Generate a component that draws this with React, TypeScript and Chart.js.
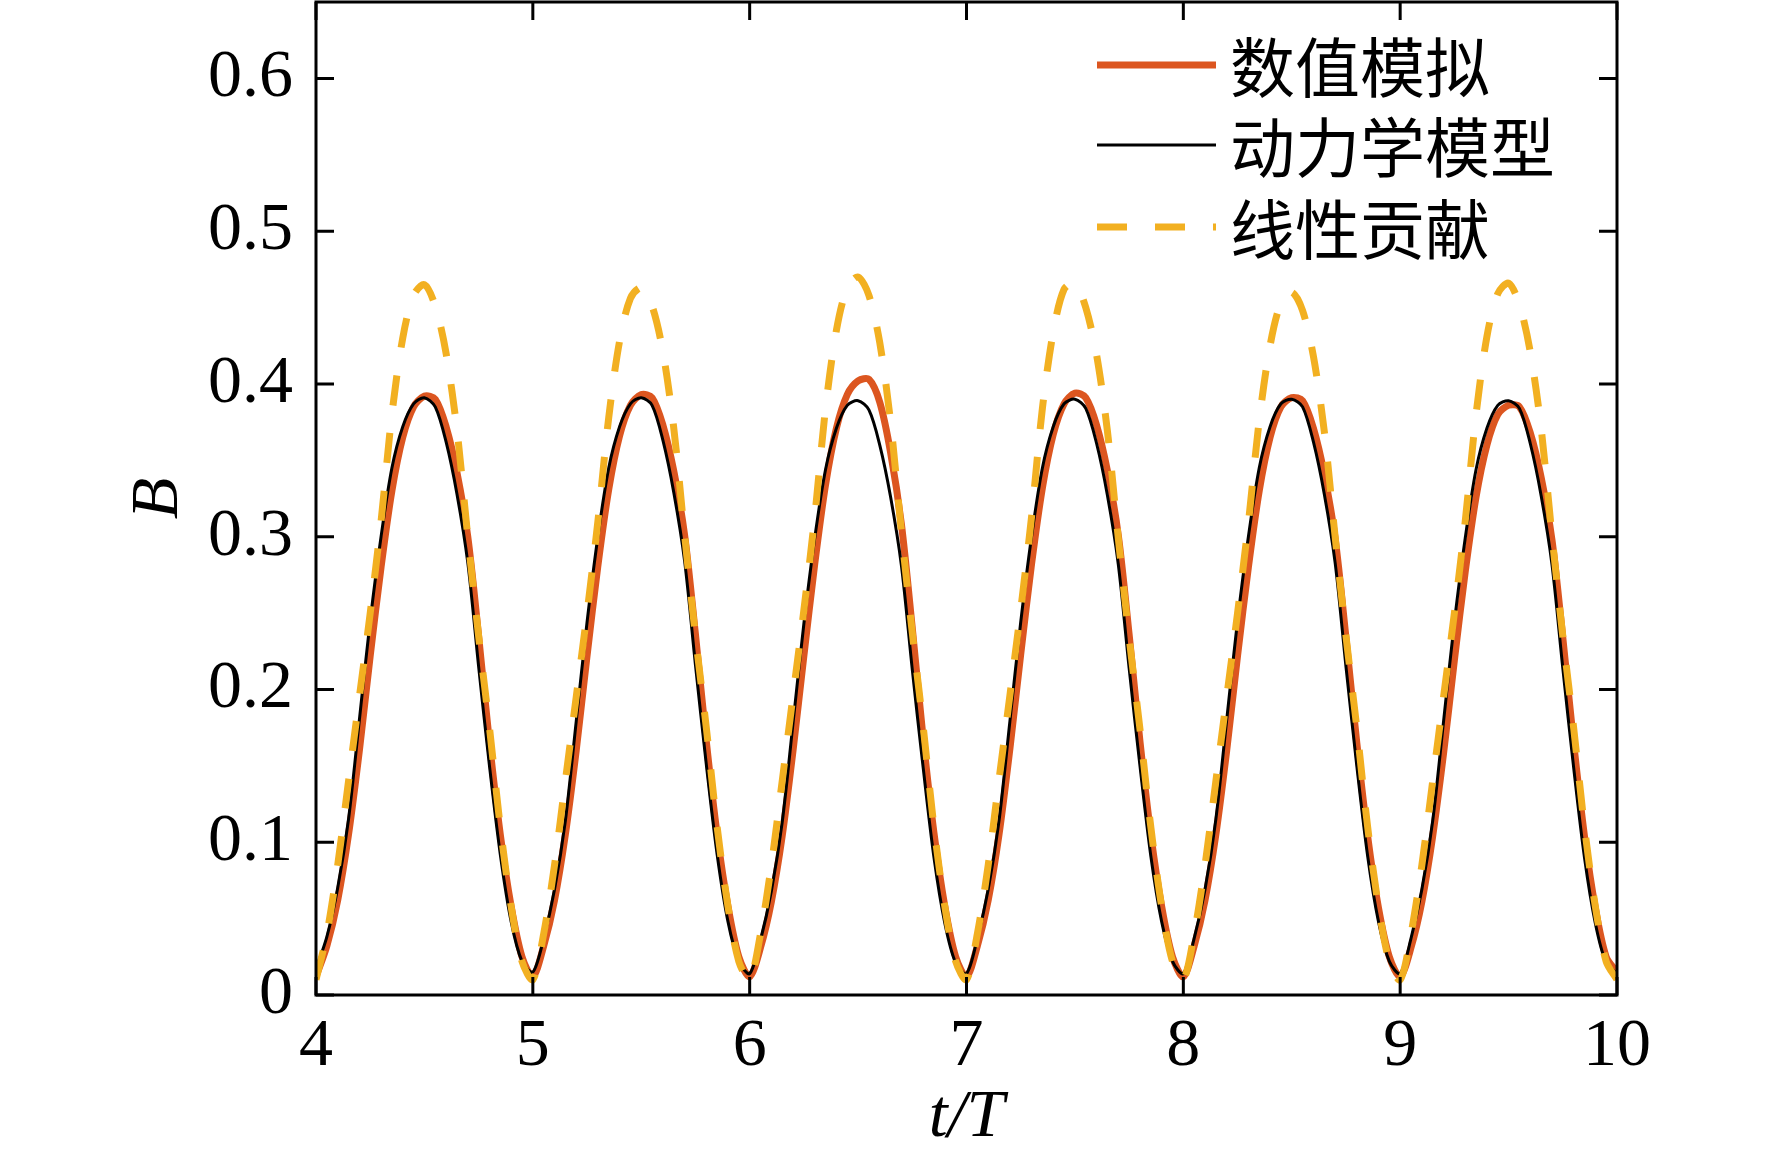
import React, { useEffect, useRef } from "react";
import { Chart, registerables } from "chart.js";

Chart.register(...registerables);

// sample times t/T
const T = [
  4.0, 4.05, 4.1, 4.15, 4.2, 4.25, 4.3, 4.35, 4.4, 4.45, 4.5, 4.55, 4.6, 4.65, 4.7, 4.75, 4.8, 4.85, 4.9, 4.95,
  5.0, 5.05, 5.1, 5.15, 5.2, 5.25, 5.3, 5.35, 5.4, 5.45, 5.5, 5.55, 5.6, 5.65, 5.7, 5.75, 5.8, 5.85, 5.9, 5.95,
  6.0, 6.05, 6.1, 6.15, 6.2, 6.25, 6.3, 6.35, 6.4, 6.45, 6.5, 6.55, 6.6, 6.65, 6.7, 6.75, 6.8, 6.85, 6.9, 6.95,
  7.0, 7.05, 7.1, 7.15, 7.2, 7.25, 7.3, 7.35, 7.4, 7.45, 7.5, 7.55, 7.6, 7.65, 7.7, 7.75, 7.8, 7.85, 7.9, 7.95,
  8.0, 8.05, 8.1, 8.15, 8.2, 8.25, 8.3, 8.35, 8.4, 8.45, 8.5, 8.55, 8.6, 8.65, 8.7, 8.75, 8.8, 8.85, 8.9, 8.95,
  9.0, 9.05, 9.1, 9.15, 9.2, 9.25, 9.3, 9.35, 9.4, 9.45, 9.5, 9.55, 9.6, 9.65, 9.7, 9.75, 9.8, 9.85, 9.9, 9.95,
  10.0,
];

// 数值模拟
const NUMERICAL = [
  0.012, 0.032, 0.062, 0.105, 0.160, 0.222, 0.280, 0.330, 0.365, 0.385, 0.392, 0.390, 0.372, 0.342, 0.300, 0.235, 0.165, 0.105, 0.058, 0.025,
  0.012, 0.032, 0.062, 0.105, 0.160, 0.222, 0.281, 0.331, 0.366, 0.386, 0.393, 0.391, 0.373, 0.343, 0.301, 0.236, 0.166, 0.105, 0.058, 0.025,
  0.012, 0.031, 0.061, 0.104, 0.160, 0.222, 0.282, 0.334, 0.371, 0.393, 0.402, 0.403, 0.388, 0.355, 0.308, 0.240, 0.168, 0.106, 0.058, 0.025,
  0.012, 0.032, 0.062, 0.105, 0.161, 0.223, 0.282, 0.332, 0.367, 0.387, 0.394, 0.391, 0.373, 0.343, 0.301, 0.236, 0.166, 0.105, 0.058, 0.025,
  0.012, 0.032, 0.062, 0.105, 0.160, 0.222, 0.280, 0.330, 0.365, 0.385, 0.391, 0.389, 0.371, 0.341, 0.299, 0.234, 0.165, 0.104, 0.057, 0.025,
  0.012, 0.031, 0.061, 0.104, 0.158, 0.219, 0.277, 0.326, 0.360, 0.380, 0.386, 0.385, 0.368, 0.339, 0.298, 0.234, 0.165, 0.104, 0.057, 0.025,
  0.015,
];

// 动力学模型
const DYNAMIC = [
  0.017, 0.038, 0.070, 0.115, 0.180, 0.245, 0.300, 0.345, 0.372, 0.387, 0.391, 0.385, 0.362, 0.328, 0.283, 0.215, 0.150, 0.092, 0.048, 0.022,
  0.015, 0.037, 0.069, 0.114, 0.179, 0.244, 0.300, 0.345, 0.372, 0.387, 0.391, 0.386, 0.363, 0.329, 0.284, 0.216, 0.151, 0.092, 0.048, 0.022,
  0.014, 0.036, 0.068, 0.113, 0.178, 0.243, 0.299, 0.344, 0.371, 0.386, 0.389, 0.383, 0.360, 0.326, 0.281, 0.213, 0.149, 0.090, 0.047, 0.021,
  0.014, 0.037, 0.069, 0.114, 0.179, 0.244, 0.300, 0.345, 0.372, 0.387, 0.390, 0.384, 0.361, 0.327, 0.282, 0.214, 0.150, 0.091, 0.048, 0.022,
  0.014, 0.037, 0.069, 0.115, 0.180, 0.245, 0.300, 0.345, 0.372, 0.387, 0.390, 0.385, 0.362, 0.328, 0.283, 0.215, 0.150, 0.091, 0.048, 0.022,
  0.014, 0.037, 0.069, 0.114, 0.179, 0.244, 0.299, 0.344, 0.371, 0.386, 0.389, 0.384, 0.361, 0.327, 0.282, 0.214, 0.149, 0.090, 0.047, 0.021,
  0.014,
];

// 线性贡献
const LINEAR = [
  0.010, 0.040, 0.085, 0.140, 0.195, 0.250, 0.310, 0.380, 0.430, 0.458, 0.465, 0.451, 0.420, 0.370, 0.300, 0.235, 0.175, 0.110, 0.058, 0.022,
  0.010, 0.040, 0.085, 0.140, 0.195, 0.250, 0.310, 0.378, 0.428, 0.456, 0.463, 0.451, 0.421, 0.371, 0.301, 0.235, 0.175, 0.110, 0.058, 0.022,
  0.010, 0.040, 0.085, 0.140, 0.196, 0.252, 0.313, 0.384, 0.435, 0.463, 0.470, 0.458, 0.427, 0.375, 0.303, 0.237, 0.176, 0.110, 0.058, 0.022,
  0.010, 0.040, 0.085, 0.141, 0.196, 0.252, 0.313, 0.384, 0.434, 0.462, 0.466, 0.450, 0.419, 0.369, 0.299, 0.234, 0.174, 0.110, 0.058, 0.022,
  0.010, 0.040, 0.085, 0.140, 0.195, 0.250, 0.309, 0.376, 0.425, 0.453, 0.460, 0.448, 0.418, 0.369, 0.300, 0.235, 0.175, 0.110, 0.058, 0.022,
  0.010, 0.040, 0.085, 0.140, 0.195, 0.250, 0.310, 0.380, 0.431, 0.459, 0.466, 0.452, 0.421, 0.371, 0.301, 0.235, 0.175, 0.110, 0.058, 0.022,
  0.010,
];

const SERIES_LABELS = ["数值模拟", "动力学模型", "线性贡献"];
const X_TICKS = [4, 5, 6, 7, 8, 9, 10];
const Y_TICKS = [0, 0.1, 0.2, 0.3, 0.4, 0.5, 0.6];

const SERIF = "'Liberation Serif', 'Times New Roman', serif";
const CJK = "'Noto Sans CJK SC', 'Noto Sans', sans-serif";

const W = 1772;
const H = 1159;

const framePlugin = {
  id: "frameAndLegend",
  afterDraw(chart: any) {
    const { ctx, chartArea, scales } = chart;
    const { left, right, top, bottom } = chartArea;
    const xs = scales.x;
    const ys = scales.y;
    ctx.save();
    ctx.strokeStyle = "#000";
    ctx.lineWidth = 3;
    ctx.setLineDash([]);
    ctx.strokeRect(left, top, right - left, bottom - top);
    const L = 18;
    ctx.beginPath();
    xs.ticks.forEach((t: any) => {
      const px = xs.getPixelForValue(t.value);
      ctx.moveTo(px, bottom);
      ctx.lineTo(px, bottom - L);
      ctx.moveTo(px, top);
      ctx.lineTo(px, top + L);
    });
    ys.ticks.forEach((t: any) => {
      const py = ys.getPixelForValue(t.value);
      ctx.moveTo(left, py);
      ctx.lineTo(left + L, py);
      ctx.moveTo(right, py);
      ctx.lineTo(right - L, py);
    });
    ctx.stroke();

    // legend
    const lx0 = 1097;
    const lx1 = 1216;
    const tx = 1230;
    const rowY = [65, 145, 227];
    chart.data.datasets.forEach((ds: any, i: number) => {
      const y = rowY[i];
      ctx.beginPath();
      ctx.strokeStyle = ds.borderColor;
      ctx.lineWidth = ds.borderWidth;
      ctx.setLineDash(ds.borderDash || []);
      ctx.moveTo(lx0, y);
      ctx.lineTo(lx1, y);
      ctx.stroke();
      ctx.setLineDash([]);
      ctx.fillStyle = "#000";
      ctx.font = `65px ${CJK}`;
      ctx.textAlign = "left";
      ctx.textBaseline = "middle";
      ctx.fillText(ds.label, tx, y + 2);
    });
    ctx.restore();
  },
};

export default function App() {
  const ref = useRef<HTMLCanvasElement | null>(null);

  useEffect(() => {
    document.body.style.margin = "0";
    document.body.style.background = "#ffffff";
    const canvas = ref.current;
    if (!canvas) return;
    const toPts = (vals: number[]) => T.map((t, i) => ({ x: t, y: vals[i] }));

    const common = { pointRadius: 0, tension: 0.3, fill: false };

    const chart = new Chart(canvas, {
      type: "line",
      data: {
        datasets: [
          {
            label: SERIES_LABELS[0],
            data: toPts(NUMERICAL),
            borderColor: "#DC5620",
            borderWidth: 7,
            order: 3,
            ...common,
          },
          {
            label: SERIES_LABELS[1],
            data: toPts(DYNAMIC),
            borderColor: "#000000",
            borderWidth: 3,
            order: 2,
            ...common,
          },
          {
            label: SERIES_LABELS[2],
            data: toPts(LINEAR),
            borderColor: "#F2B021",
            borderWidth: 7,
            borderDash: [30, 28],
            order: 1,
            ...common,
          },
        ],
      },
      options: {
        animation: false,
        responsive: false,
        devicePixelRatio: 1,
        layout: { padding: { top: 2, right: 155, left: 0, bottom: 0 } },
        plugins: {
          legend: { display: false },
          tooltip: { enabled: false },
        },
        scales: {
          x: {
            type: "linear",
            min: 4,
            max: 10,
            grid: { display: false, drawTicks: false },
            border: { display: false },
            afterBuildTicks: (scale: any) => {
              scale.ticks = X_TICKS.map((v) => ({ value: v }));
            },
            afterFit: (scale: any) => {
              scale.height = 164;
              scale.paddingLeft = 0;
              scale.paddingRight = 0;
            },
            ticks: {
              color: "#000",
              padding: 11,
              maxRotation: 0,
              font: { family: SERIF, size: 68 },
              callback: (v: any) => String(v),
            },
            title: {
              display: true,
              text: "t/T",
              color: "#000",
              font: { family: SERIF, size: 68, style: "italic" },
              padding: { top: 0, bottom: 0 },
            },
          },
          y: {
            type: "linear",
            min: 0,
            max: 0.65,
            grid: { display: false, drawTicks: false },
            border: { display: false },
            afterBuildTicks: (scale: any) => {
              scale.ticks = Y_TICKS.map((v) => ({ value: v }));
            },
            afterFit: (scale: any) => {
              scale.width = 316;
              scale.paddingTop = 0;
              scale.paddingBottom = 0;
            },
            ticks: {
              color: "#000",
              padding: 23,
              font: { family: SERIF, size: 68 },
              callback: (v: any) => (Number(v) === 0 ? "0" : Number(v).toFixed(1)),
            },
            title: {
              display: true,
              text: "B",
              color: "#000",
              font: { family: SERIF, size: 68, style: "italic" },
              padding: { top: 118, bottom: 0 },
            },
          },
        },
      },
      plugins: [framePlugin],
    } as any);

    return () => {
      chart.destroy();
    };
  }, []);

  return (
    <div style={{ width: W, height: H, background: "#fff" }}>
      <canvas ref={ref} width={W} height={H} style={{ display: "block", width: W, height: H }} />
    </div>
  );
}
